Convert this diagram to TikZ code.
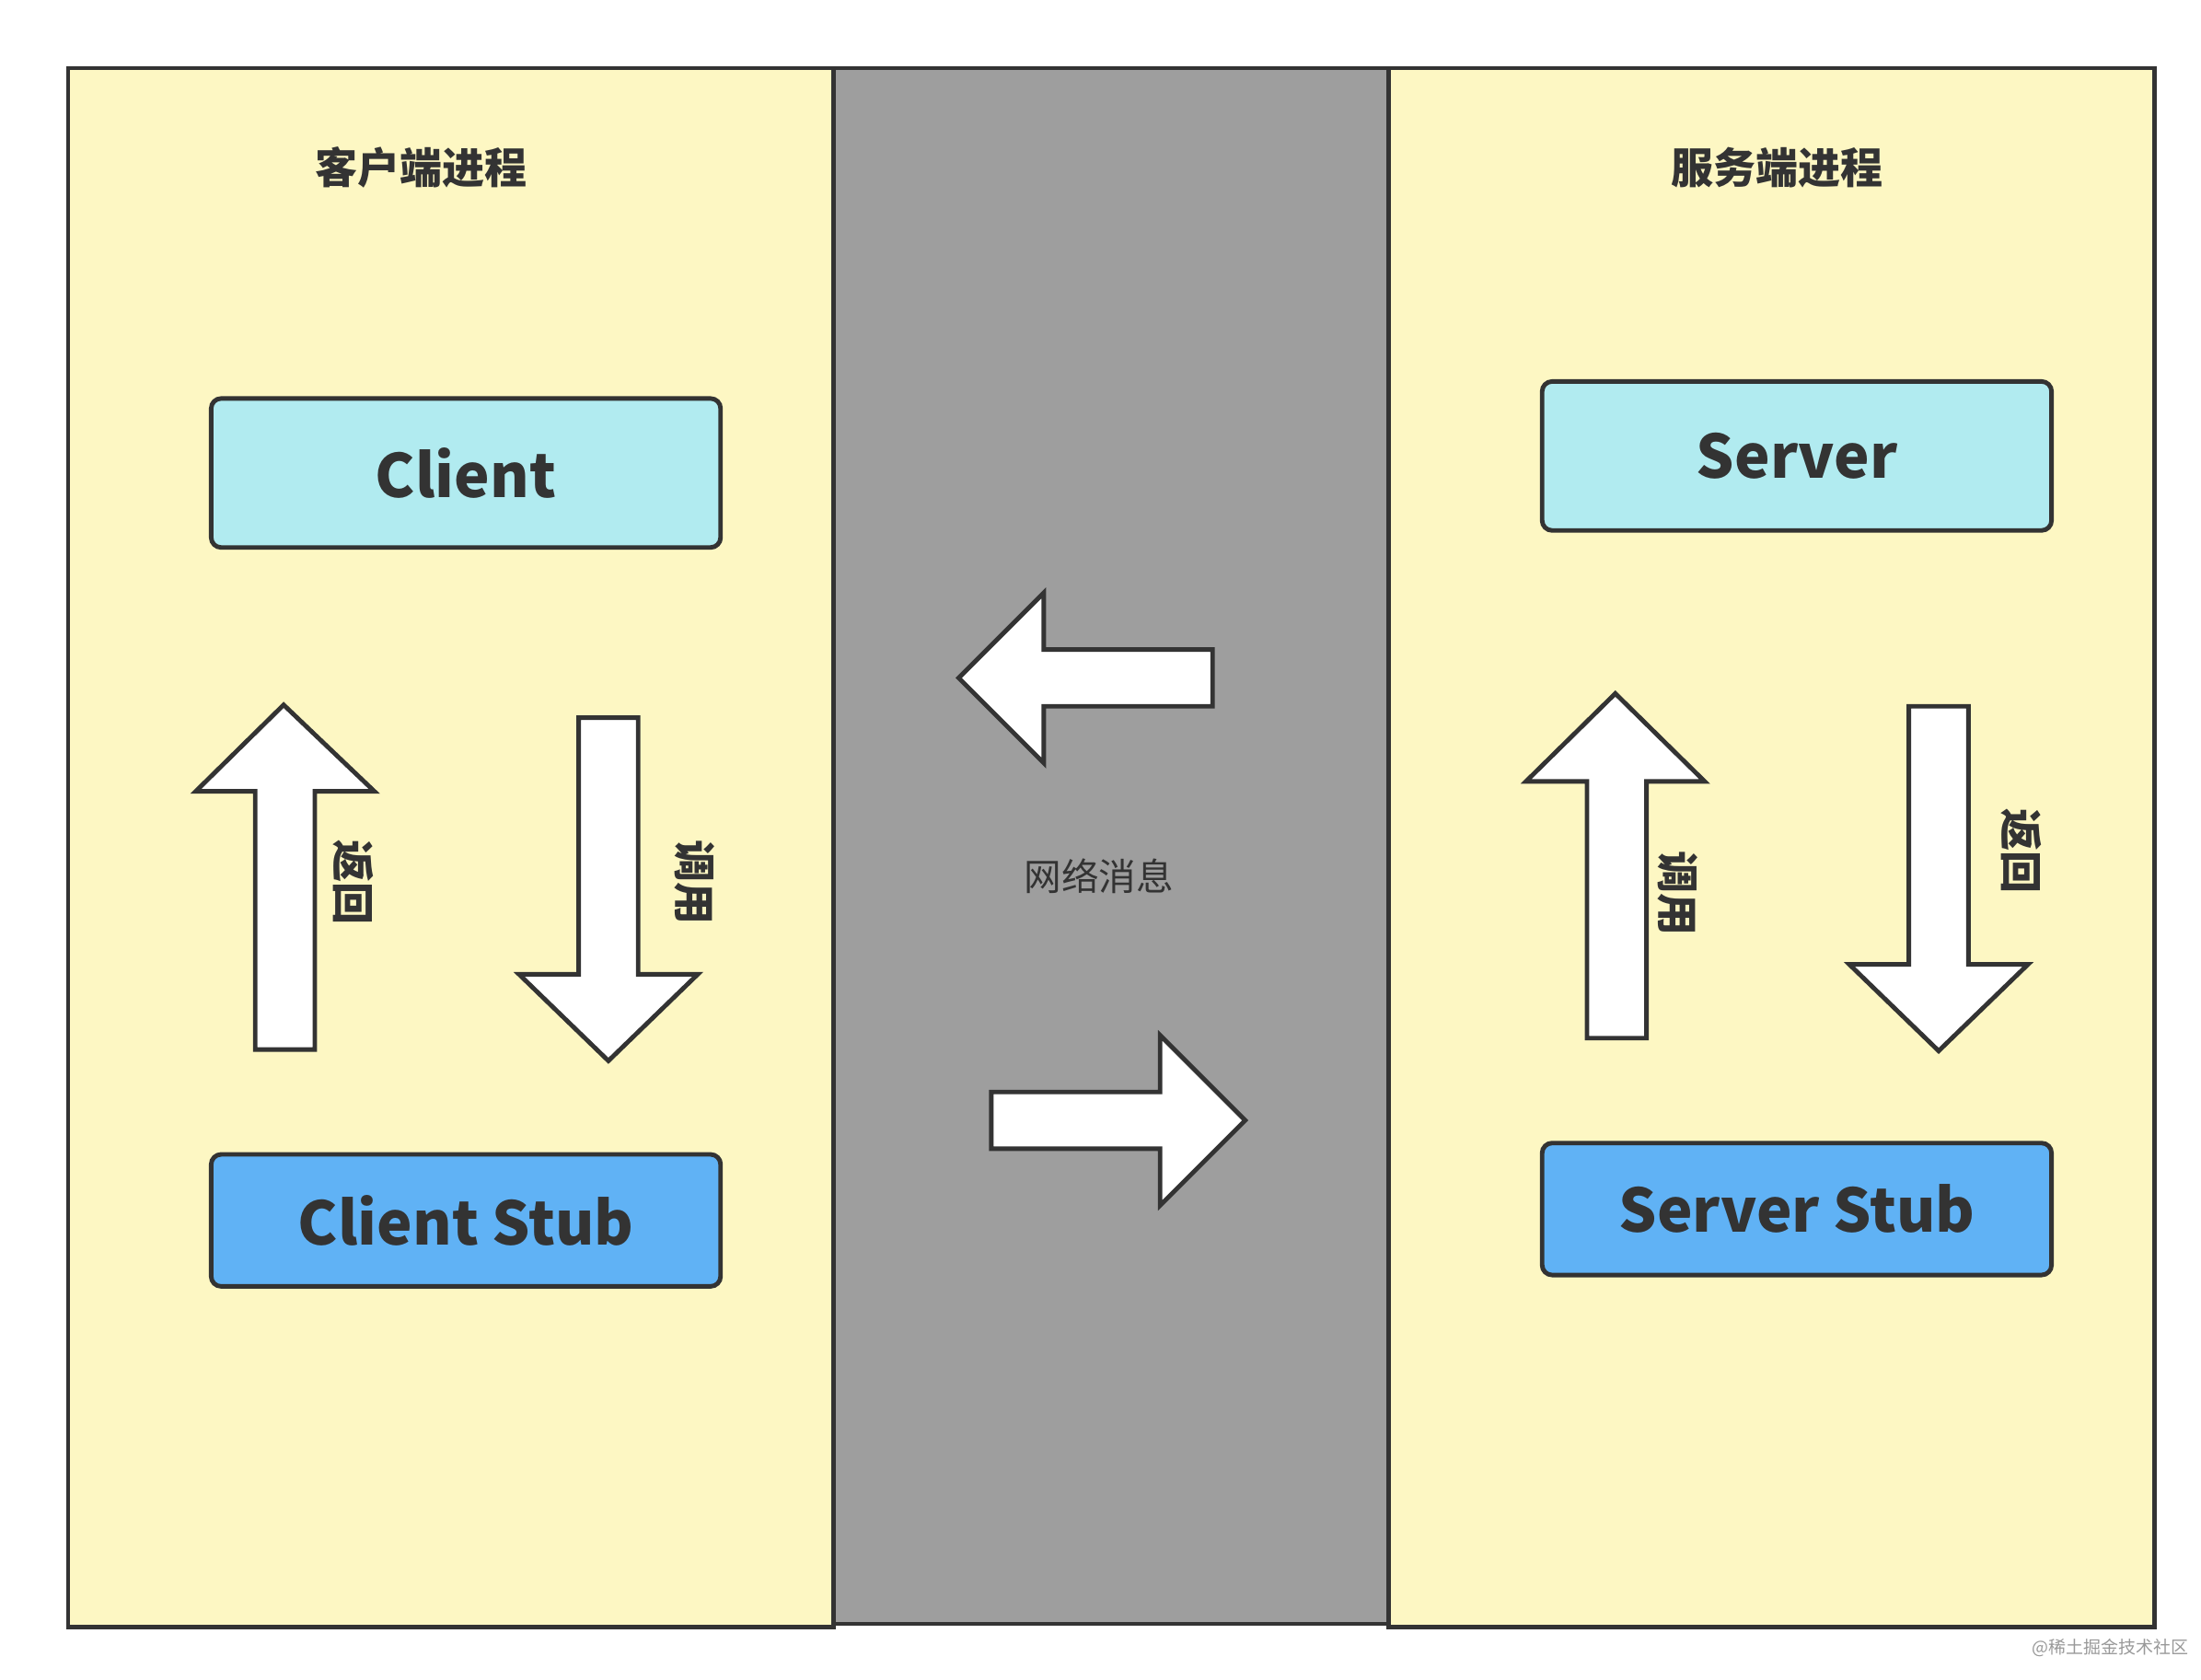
\documentclass[tikz,border=0pt]{standalone}
\usepackage{fontspec}
\setmainfont{Noto Sans CJK SC}
\definecolor{panel}{HTML}{FDF7C3}
\definecolor{net}{HTML}{9E9E9E}
\definecolor{topbox}{HTML}{B1EBF0}
\definecolor{stubbox}{HTML}{60B2F5}
\definecolor{edge}{HTML}{333333}
\tikzset{
	area/.style={draw=edge, line width=0.9pt},
	box/.style={draw=edge, line width=0.9pt, rounded corners=2pt, minimum width=3.59cm, font=\bfseries\fontsize{12}{14}\selectfont, text=edge},
	bigarrow/.style={draw=edge, fill=white, line width=0.9pt},
	side/.style={font=\bfseries\fontsize{8.5}{10}\selectfont, text=edge, rotate=-90},
	title/.style={font=\bfseries\fontsize{8.5}{10}\selectfont, text=edge},
}
\begin{document}
\begin{tikzpicture}[x=0.01cm, y=-0.01cm]
	\useasboundingbox (0,0) rectangle (1552,1184);
	\fill[white] (0,0) rectangle (1552,1184);
	%三个区域
	\draw[area, fill=panel] (48,48) rectangle (588,1147);
	\draw[area, fill=net] (588,48) rectangle (979,1145);
	\draw[area, fill=panel] (979,48) rectangle (1519,1147);
	%标题
	\node[title] (ctitle) at (297,118) {客户端进程};
	\node[title] (stitle) at (1253,118) {服务端进程};
	%方框
	\node[box, fill=topbox, minimum height=1.05cm] (client) at (328.5,333.5) {Client};
	\node[box, fill=stubbox, minimum height=0.93cm] (cstub) at (328.5,860.5) {Client Stub};
	\node[box, fill=topbox, minimum height=1.05cm] (server) at (1267,321.5) {Server};
	\node[box, fill=stubbox, minimum height=0.93cm] (sstub) at (1267,852.5) {Server Stub};
	%客户端箭头
	\draw[bigarrow] (180,740) -- (180,558) -- (138,558) -- (200,497) -- (264,558) -- (222,558) -- (222,740) -- cycle;
	\node[side] (cret) at (249,622) {返回};
	\draw[bigarrow] (408,506) -- (408,687) -- (366,687) -- (429,748) -- (492,687) -- (450,687) -- (450,506) -- cycle;
	\node[side] (ccall) at (490,622) {调用};
	%网络箭头
	\draw[bigarrow] (855,458) -- (736,458) -- (736,418) -- (676,478) -- (736,538) -- (736,498) -- (855,498) -- cycle;
	\draw[bigarrow] (699,770) -- (818,770) -- (818,730) -- (878,790) -- (818,850) -- (818,810) -- (699,810) -- cycle;
	\node[text=edge, font=\fontsize{7.5}{9}\selectfont] (msg) at (775,618) {网络消息};
	%服务端箭头
	\draw[bigarrow] (1119,732) -- (1119,551) -- (1076,551) -- (1139,489) -- (1202,551) -- (1161,551) -- (1161,732) -- cycle;
	\node[side] (scall) at (1183,630) {调用};
	\draw[bigarrow] (1346,498) -- (1346,680) -- (1304,680) -- (1367,741) -- (1430,680) -- (1388,680) -- (1388,498) -- cycle;
	\node[side] (sret) at (1425,600) {返回};
	%水印
	\node[text=gray!80, font=\fontsize{3.5}{4}\selectfont] (mark) at (1488,1162) {@稀土掘金技术社区};
\end{tikzpicture}
\end{document}
